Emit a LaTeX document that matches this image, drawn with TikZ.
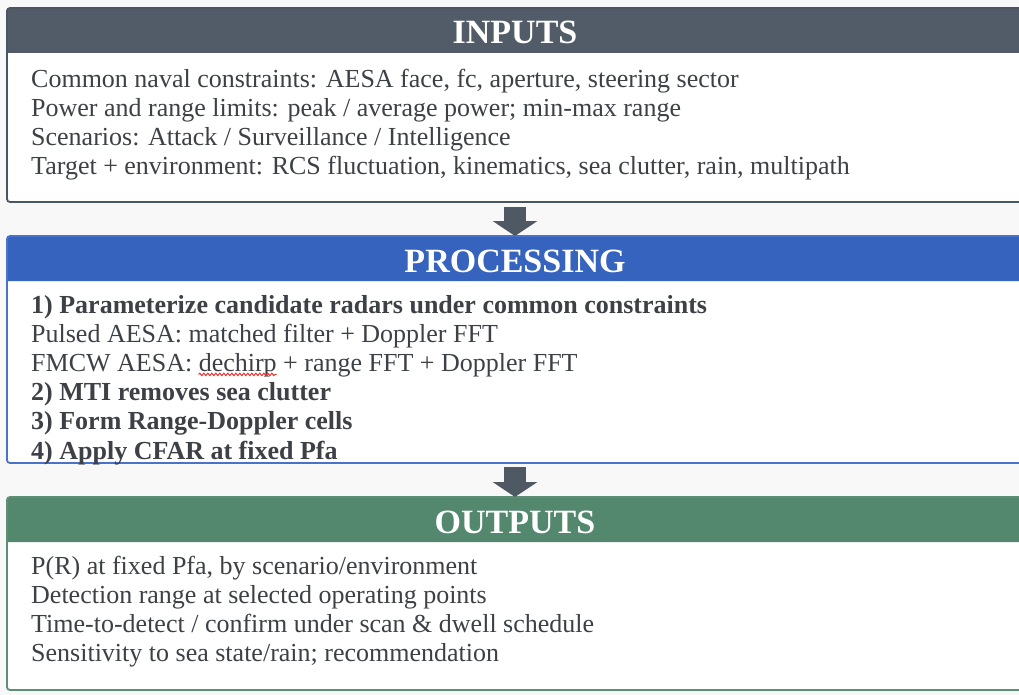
\documentclass[tikz,border=0pt]{standalone}
\usepackage{fontspec}
\setmainfont{Liberation Serif}
\usetikzlibrary{arrows.meta,decorations.pathmorphing}
\definecolor{bgc}{HTML}{F8F8F8}
\definecolor{hin}{HTML}{515C68}
\definecolor{bin}{HTML}{4B5560}
\definecolor{hpr}{HTML}{3563BE}
\definecolor{bpr}{HTML}{4A72C8}
\definecolor{hout}{HTML}{53876E}
\definecolor{bout}{HTML}{5E8F76}
\definecolor{arrc}{HTML}{4F5964}
\definecolor{txt}{HTML}{3D4146}
\definecolor{wavered}{HTML}{E03030}
\newlength\wavea
\newlength\waveb
\newcommand\bodyfont{\fontsize{26}{29}\selectfont}
\settowidth\wavea{\bodyfont FMCW AESA: }
\settowidth\waveb{\bodyfont dechirp}
\begin{document}
\begin{tikzpicture}[x=1pt,y=-1pt,
  boxbody/.style={fill=white, rounded corners=3pt, minimum width=1016pt, anchor=north west, inner sep=0pt, outer sep=0pt},
  frame/.style={draw=#1, line width=1.8pt, rounded corners=3pt},
  htext/.style={anchor=base, inner sep=0pt, text=white, font=\fontsize{34}{40}\selectfont\bfseries},
  bline/.style={anchor=base west, inner sep=0pt, text=txt, font=\bodyfont},
  bbold/.style={bline, font=\bodyfont\bfseries},
  blockarrow/.style={draw=arrc, line width=22pt, -{Triangle[width=44pt,length=15pt]}},
  wavy/.style={draw=wavered, line width=1pt, decorate, decoration={snake, segment length=4pt, amplitude=1.2pt}}
]
\path[use as bounding box] (0,0) rectangle (1019,695);
\clip (0,0) rectangle (1019,695);
\fill[bgc] (0,0) rectangle (1019,695);

% INPUTS
\node[boxbody, minimum height=194pt] (inbox) at (7,8) {};
\fill[hin] ([yshift=-45pt]inbox.north west) [rounded corners=3pt] -- (inbox.north west) -- (inbox.north east) [sharp corners] -- ([yshift=-45pt]inbox.north east) -- cycle;
\draw[frame=bin] (inbox.north west) rectangle (inbox.south east);
\node[htext] (inhead) at (515,44) {INPUTS};
\node[bline] (in1) at (31,88) {Common naval constraints: AESA face, fc, aperture, steering sector};
\node[bline] (in2) at (31,117) {Power and range limits: peak / average power; min-max range};
\node[bline] (in3) at (31,146) {Scenarios: Attack / Surveillance / Intelligence};
\node[bline] (in4) at (31,175) {Target + environment: RCS fluctuation, kinematics, sea clutter, rain, multipath};

% PROCESSING
\node[boxbody, minimum height=227pt] (prbox) at (7,236) {};
\fill[hpr] ([yshift=-45pt]prbox.north west) [rounded corners=3pt] -- (prbox.north west) -- (prbox.north east) [sharp corners] -- ([yshift=-45pt]prbox.north east) -- cycle;
\draw[frame=bpr] (prbox.north west) rectangle (prbox.south east);
\node[htext] (prhead) at (515,272) {PROCESSING};
\node[bbold] (pr1) at (31,313) {1) Parameterize candidate radars under common constraints};
\node[bline] (pr2) at (31,342.2) {Pulsed AESA: matched filter + Doppler FFT};
\node[bline] (pr3) at (31,371.4) {FMCW AESA: dechirp + range FFT + Doppler FFT};
\node[bbold] (pr4) at (31,400.6) {2) MTI removes sea clutter};
\node[bbold] (pr5) at (31,429.8) {3) Form Range-Doppler cells};
\node[bbold] (pr6) at (31,459) {4) Apply CFAR at fixed Pfa};
\coordinate (wstart) at ([xshift=\wavea,yshift=-3pt]pr3.base west);
\coordinate (wend) at ([xshift=\wavea+\waveb,yshift=-3pt]pr3.base west);
\draw[wavy] (wstart) -- (wend);

% OUTPUTS
\node[boxbody, minimum height=193pt] (outbox) at (7,497) {};
\fill[hout] ([yshift=-45pt]outbox.north west) [rounded corners=3pt] -- (outbox.north west) -- (outbox.north east) [sharp corners] -- ([yshift=-45pt]outbox.north east) -- cycle;
\draw[frame=bout] (outbox.north west) rectangle (outbox.south east);
\node[htext] (outhead) at (515,533) {OUTPUTS};
\node[bline] (out1) at (31,574) {P(R) at fixed Pfa, by scenario/environment};
\node[bline] (out2) at (31,603) {Detection range at selected operating points};
\node[bline] (out3) at (31,632) {Time-to-detect / confirm under scan \& dwell schedule};
\node[bline] (out4) at (31,661) {Sensitivity to sea state/rain; recommendation};

% arrows
\draw[blockarrow] ([yshift=-5pt]inbox.south) -- (prbox.north);
\draw[blockarrow] ([yshift=-4pt]prbox.south) -- (outbox.north);
\end{tikzpicture}
\end{document}
